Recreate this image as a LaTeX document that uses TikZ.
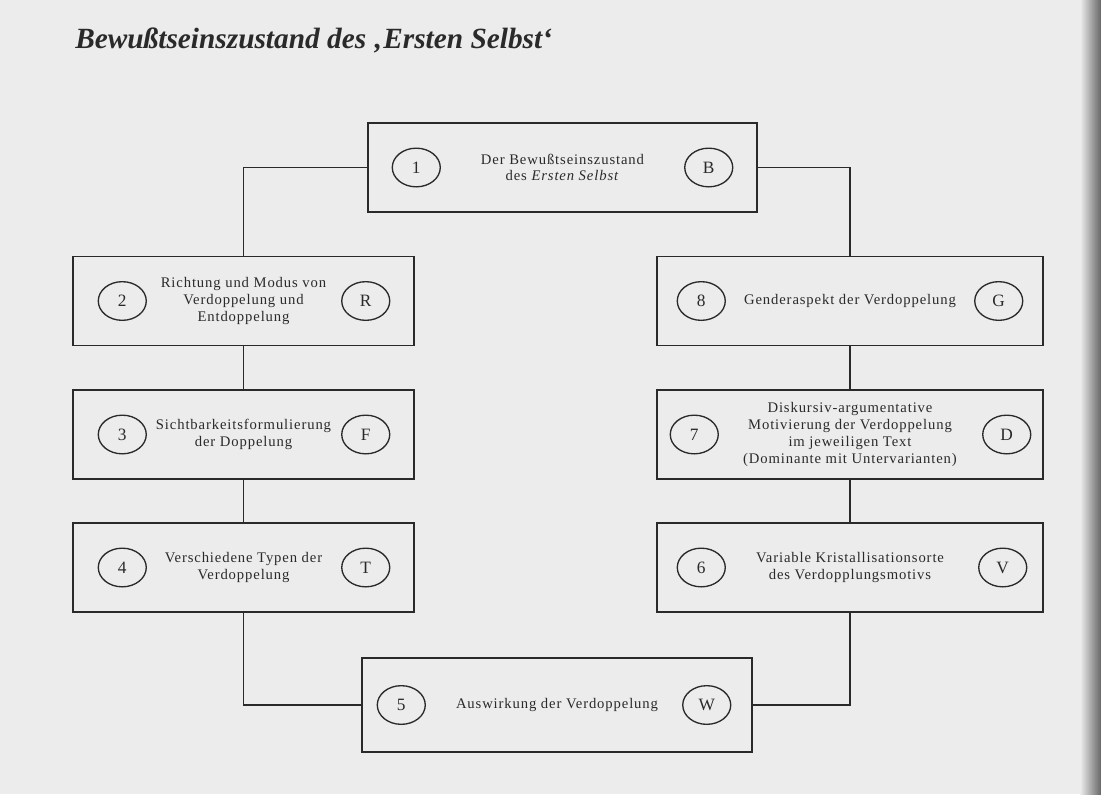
\documentclass[tikz,border=0pt]{standalone}
\usepackage{fontspec}
\setmainfont{Liberation Serif}
\newfontfamily\boxfnt[LetterSpace=6]{Liberation Serif}
\usetikzlibrary{calc,shapes.geometric}
\definecolor{paper}{HTML}{ECECEC}
\definecolor{ink}{HTML}{2A2A2A}
\tikzset{
  stagebox/.style n args={2}{draw=ink, line width=1.1pt, minimum width=#1*0.75pt, minimum height=#2*0.75pt,
    align=center, inner sep=0pt, text=ink, font=\boxfnt\fontsize{11}{12.6}\selectfont},
  letterring/.style={draw=ink, line width=1pt, ellipse, minimum width=36pt, minimum height=29pt, inner sep=0pt,
    text=ink, font=\fontsize{13}{13}\selectfont},
  link/.style={draw=ink, line width=1.1pt},
  heading/.style={anchor=west, text=ink, inner sep=0pt, font=\bfseries\itshape\fontsize{22}{26}\selectfont}
}
\begin{document}
\begin{tikzpicture}[x=0.75pt,y=-0.75pt]
\fill[paper] (0,0) rectangle (1101,794);
\shade[left color=paper, right color=black!60] (1080,0) rectangle (1101,794);
\useasboundingbox (0,0) rectangle (1101,794);

\node[heading] (title) at (75,40) {Bewußtseinszustand des ‚Ersten Selbst‘};

% boxes
\node[stagebox={389}{89}] (b1) at (562.5,167.5) {Der Bewußtseinszustand\\des \textit{Ersten Selbst}};
\node[stagebox={341}{89}] (b2) at (243.5,301) {Richtung und Modus von\\Verdoppelung und\\Entdoppelung};
\node[stagebox={386}{89}] (b8) at (850,301) {Genderaspekt der Verdoppelung};
\node[stagebox={341}{89}] (b3) at (243.5,434.5) {Sichtbarkeitsformulierung\\der Doppelung};
\node[stagebox={386}{89}] (b7) at (850,434.5) {Diskursiv-argumentative\\Motivierung der Verdoppelung\\im jeweiligen Text\\(Dominante mit Untervarianten)};
\node[stagebox={341}{89}] (b4) at (243.5,567.5) {Verschiedene Typen der\\Verdoppelung};
\node[stagebox={386}{89}] (b6) at (850,567.5) {Variable Kristallisationsorte\\des Verdopplungsmotivs};
\node[stagebox={390}{94}] (b5) at (557,705) {Auswirkung der Verdoppelung};

% circles
\node[letterring] (c1) at ($(b1.west)+(49,0)$) {1};
\node[letterring] (cB) at ($(b1.east)+(-49,0)$) {B};
\node[letterring] (c2) at ($(b2.west)+(50,0)$) {2};
\node[letterring] (cR) at ($(b2.east)+(-49,0)$) {R};
\node[letterring] (c8) at ($(b8.west)+(45,0)$) {8};
\node[letterring] (cG) at ($(b8.east)+(-45,0)$) {G};
\node[letterring] (c3) at ($(b3.west)+(50,0)$) {3};
\node[letterring] (cF) at ($(b3.east)+(-49,0)$) {F};
\node[letterring] (c7) at ($(b7.west)+(38,0)$) {7};
\node[letterring] (cD) at ($(b7.east)+(-37,0)$) {D};
\node[letterring] (c4) at ($(b4.west)+(50,0)$) {4};
\node[letterring] (cT) at ($(b4.east)+(-49,0)$) {T};
\node[letterring] (c6) at ($(b6.west)+(45,0)$) {6};
\node[letterring] (cV) at ($(b6.east)+(-41,0)$) {V};
\node[letterring] (c5) at ($(b5.west)+(40,0)$) {5};
\node[letterring] (cW) at ($(b5.east)+(-46,0)$) {W};

% connectors
\draw[link] (b1.west) -| (b2.north);
\draw[link] (b1.east) -| (b8.north);
\draw[link] (b2.south) -- (b3.north);
\draw[link] (b8.south) -- (b7.north);
\draw[link] (b3.south) -- (b4.north);
\draw[link] (b7.south) -- (b6.north);
\draw[link] (b4.south) |- (b5.west);
\draw[link] (b6.south) |- (b5.east);
\end{tikzpicture}
\end{document}
